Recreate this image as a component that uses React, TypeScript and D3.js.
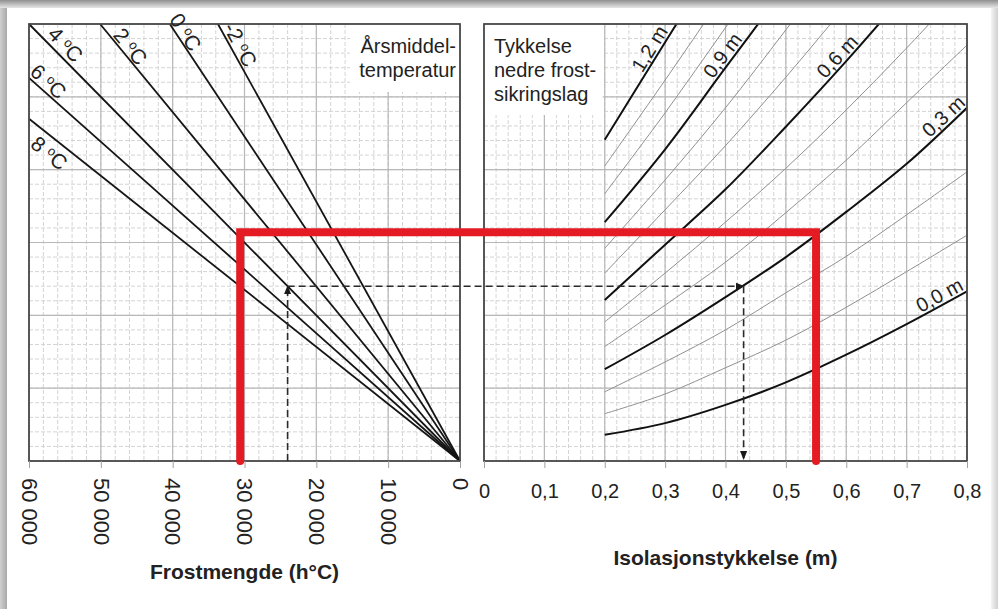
import React, { useEffect, useRef } from "react";
import * as d3 from "d3";

// ---- data ----

// left panel: annual mean temperature lines, each runs from the origin to where it leaves the frame
const tempLabels = ["-2", "0", "2", "4", "6", "8"];
const tempEndFrost = [33700, 40400, 50100, 60000, 60000, 60000];
const tempEndLevel = [6, 6, 6, 6, 5.26, 4.7];
// where the label sits along each line (frost amount) and on which side (+ above, - below)
const tempLabelFrost = [31750, 39200, 46860, 56070, 58250, 55940];
const tempLabelSide = [10, 9, 9.5, 12, 10.5, -14];

// right panel: thickness of lower frost protection layer (m)
const layerThickness = [0, 0.1, 0.2, 0.3, 0.4, 0.5, 0.6, 0.7, 0.8, 0.9, 1.0, 1.1, 1.2];
const isoSteps = [0.2, 0.3, 0.4, 0.5, 0.6, 0.7, 0.8];
// level of each curve at isoSteps (same vertical units as the left panel, 0..6)
const layerLevels = [
  [0.36, 0.52, 0.77, 1.08, 1.46, 1.88, 2.33],
  [0.65, 0.92, 1.28, 1.66, 2.11, 2.6, 3.1],
  [0.95, 1.36, 1.8, 2.31, 2.81, 3.38, 3.97],
  [1.26, 1.73, 2.25, 2.8, 3.42, 4.08, 4.85],
  [1.57, 2.14, 2.73, 3.41, 4.13, 4.92, 5.71],
  [1.91, 2.58, 3.28, 4.02, 4.82, 5.67, 6.56],
  [2.21, 2.97, 3.73, 4.59, 5.49, 6.44],
  [2.58, 3.45, 4.33, 5.27, 6.26],
  [2.92, 3.86, 4.85, 5.92, 7.02],
  [3.28, 4.28, 5.4, 6.51],
  [3.67, 4.78, 5.95, 7.13],
  [4.05, 5.23, 6.44],
  [4.41, 5.75, 7.08],
];
const curveLabels = ["0,0 m", "0,3 m", "0,6 m", "0,9 m", "1,2 m"];
const curveLabelLayer = [0, 0.3, 0.6, 0.9, 1.2];
const curveLabelIso = [0.762, 0.772, 0.597, 0.408, 0.288];

// axis ticks
const frostTicks = [60000, 50000, 40000, 30000, 20000, 10000, 0];
const isoTicks = [0, 0.1, 0.2, 0.3, 0.4, 0.5, 0.6, 0.7, 0.8];

// worked example (dashed) and highlighted case (red)
const exampleFrost = 24000;
const exampleLevel = 2.4;
const exampleIso = 0.43;
const redFrost = 30600;
const redLevel = 3.14;
const redIso = 0.55;

const FONT = "'Liberation Sans', Arial, sans-serif";

function draw(svg) {
  var top = 24, bottom = 461;
  var xL = d3.scaleLinear().domain([60000, 0]).range([29, 460]);
  var xR = d3.scaleLinear().domain([0, 0.8]).range([484, 967]);
  var y = d3.scaleLinear().domain([0, 6]).range([bottom, top]);

  var defs = svg.append("defs");
  var gTop = defs.append("linearGradient").attr("id", "shTop").attr("x1", 0).attr("y1", 0).attr("x2", 0).attr("y2", 1);
  gTop.append("stop").attr("offset", "0%").attr("stop-color", "#8f8f8f");
  gTop.append("stop").attr("offset", "100%").attr("stop-color", "#e6e6e6");
  var gLeft = defs.append("linearGradient").attr("id", "shLeft").attr("x1", 0).attr("y1", 0).attr("x2", 1).attr("y2", 0);
  gLeft.append("stop").attr("offset", "0%").attr("stop-color", "#d0d0d0");
  gLeft.append("stop").attr("offset", "100%").attr("stop-color", "#a9a9a9");
  var gRight = defs.append("linearGradient").attr("id", "shRight").attr("x1", 0).attr("y1", 0).attr("x2", 1).attr("y2", 0);
  gRight.append("stop").attr("offset", "0%").attr("stop-color", "#f4f4f4");
  gRight.append("stop").attr("offset", "100%").attr("stop-color", "#cfcfcf");

  defs.append("clipPath").attr("id", "clipR")
    .append("rect")
    .attr("x", xR(0)).attr("y", top)
    .attr("width", xR(0.8) - xR(0)).attr("height", bottom - top);

  defs.append("marker")
    .attr("id", "arrow")
    .attr("viewBox", "0 0 10 10")
    .attr("refX", 9).attr("refY", 5)
    .attr("markerWidth", 9).attr("markerHeight", 9)
    .attr("markerUnits", "userSpaceOnUse")
    .attr("orient", "auto")
    .append("path").attr("d", "M0,1 L10,5 L0,9 Z").attr("fill", "#1a1a1a");

  // page + drop shadow of the pasted picture
  svg.append("rect").attr("width", 998).attr("height", 609).attr("fill", "#fff");
  svg.append("rect").attr("x", 0).attr("y", 0).attr("width", 7).attr("height", 609).attr("fill", "url(#shLeft)");
  svg.append("rect").attr("x", 991).attr("y", 0).attr("width", 7).attr("height", 609).attr("fill", "url(#shRight)");
  svg.append("rect").attr("x", 0).attr("y", 0).attr("width", 998).attr("height", 8).attr("fill", "url(#shTop)");

  // grid for one panel
  function grid(x, minorStep, majorStep) {
    var g = svg.append("g");
    var d = x.domain();
    var lo = Math.min(d[0], d[1]), hi = Math.max(d[0], d[1]);
    var minorX = d3.range(lo, hi + minorStep / 2, minorStep);
    var majorX = d3.range(lo, hi + majorStep / 2, majorStep);
    var minorY = d3.range(0, 6.01, 0.2);
    var majorY = d3.range(0, 6.01, 1);
    var xa = Math.min(x.range()[0], x.range()[1]), xb = Math.max(x.range()[0], x.range()[1]);

    g.selectAll(".mvx").data(minorX).join("line")
      .attr("x1", (v) => x(v)).attr("x2", (v) => x(v))
      .attr("y1", top).attr("y2", bottom)
      .attr("stroke", "#d4d4d4").attr("stroke-width", 1).attr("stroke-dasharray", "4,2");
    g.selectAll(".mhy").data(minorY).join("line")
      .attr("x1", xa).attr("x2", xb)
      .attr("y1", (v) => y(v)).attr("y2", (v) => y(v))
      .attr("stroke", "#d4d4d4").attr("stroke-width", 1).attr("stroke-dasharray", "4,2");
    g.selectAll(".Mvx").data(majorX).join("line")
      .attr("x1", (v) => x(v)).attr("x2", (v) => x(v))
      .attr("y1", top).attr("y2", bottom)
      .attr("stroke", "#b8b8b8").attr("stroke-width", 1.2);
    g.selectAll(".Mhy").data(majorY).join("line")
      .attr("x1", xa).attr("x2", xb)
      .attr("y1", (v) => y(v)).attr("y2", (v) => y(v))
      .attr("stroke", "#b8b8b8").attr("stroke-width", 1.2);
  }
  grid(xL, 2000, 10000);
  grid(xR, 0.02, 0.1);

  // white boxes behind the panel captions
  svg.append("rect").attr("x", 350).attr("y", top).attr("width", xL(0) - 350).attr("height", 68).attr("fill", "#fff");
  svg.append("rect").attr("x", xR(0)).attr("y", top).attr("width", xR(0.2) - xR(0) - 2).attr("height", 91).attr("fill", "#fff");

  // left: temperature lines
  var line = d3.line().x((p) => xL(p[0])).y((p) => y(p[1]));
  svg.append("g").selectAll("path")
    .data(tempLabels.map((t, i) => [[0, 0], [tempEndFrost[i], tempEndLevel[i]]]))
    .join("path")
    .attr("d", line)
    .attr("fill", "none").attr("stroke", "#151515").attr("stroke-width", 1.8);

  // right: layer thickness curves
  var curve = d3.line()
    .x((v, i) => xR(isoSteps[i]))
    .y((v) => y(v))
    .curve(d3.curveCatmullRom.alpha(0.5));
  svg.append("g").attr("clip-path", "url(#clipR)").selectAll("path")
    .data(layerLevels)
    .join("path")
    .attr("d", (d) => curve(d))
    .attr("fill", "none")
    .attr("stroke", (d, i) => (i % 3 === 0 ? "#111" : "#909090"))
    .attr("stroke-width", (d, i) => (i % 3 === 0 ? 2 : 1));

  // panel frames
  [[xL, 60000, 0], [xR, 0, 0.8]].forEach(([x, a, b]) => {
    svg.append("rect")
      .attr("x", x(a)).attr("y", top)
      .attr("width", x(b) - x(a)).attr("height", bottom - top)
      .attr("fill", "none").attr("stroke", "#4a4a4a").attr("stroke-width", 1.8);
  });

  // axes
  var axL = d3.axisBottom(xL).tickValues(frostTicks).tickSize(7)
    .tickFormat((d) => (d === 0 ? "0" : d3.format(",")(d).replace(/,/g, " ")));
  var gL = svg.append("g").attr("transform", `translate(0,${bottom})`).call(axL);
  gL.select(".domain").remove();
  gL.selectAll(".tick line").attr("stroke", "#a0a0a0");
  gL.selectAll(".tick text")
    .attr("transform", "rotate(90)")
    .attr("x", 17).attr("y", 0).attr("dy", "0.35em")
    .attr("text-anchor", "start")
    .attr("font-size", 22).attr("font-family", FONT).attr("fill", "#222");

  var axR = d3.axisBottom(xR).tickValues(isoTicks).tickSize(7)
    .tickFormat((d) => (d === 0 ? "0" : d3.format(".1f")(d).replace(".", ",")));
  var gR = svg.append("g").attr("transform", `translate(0,${bottom})`).call(axR);
  gR.select(".domain").remove();
  gR.selectAll(".tick line").attr("stroke", "#a0a0a0");
  gR.selectAll(".tick text")
    .attr("y", 23)
    .attr("font-size", 20).attr("font-family", FONT).attr("fill", "#222");

  // axis titles
  svg.append("text")
    .attr("x", (xL(60000) + xL(0)) / 2).attr("y", 579)
    .attr("text-anchor", "middle").attr("font-family", FONT).attr("font-weight", "bold")
    .attr("font-size", 21).attr("fill", "#222")
    .text("Frostmengde (h°C)");
  svg.append("text")
    .attr("x", (xR(0) + xR(0.8)) / 2).attr("y", 565)
    .attr("text-anchor", "middle").attr("font-family", FONT).attr("font-weight", "bold")
    .attr("font-size", 21).attr("fill", "#222")
    .text("Isolasjonstykkelse (m)");

  // panel captions
  var capL = svg.append("text").attr("font-family", FONT).attr("font-size", 20).attr("fill", "#222").attr("text-anchor", "end");
  capL.append("tspan").attr("x", 456).attr("y", 53).text("Årsmiddel-");
  capL.append("tspan").attr("x", 456).attr("y", 77).text("temperatur");
  var capR = svg.append("text").attr("font-family", FONT).attr("font-size", 20).attr("fill", "#222");
  capR.append("tspan").attr("x", 494).attr("y", 53).text("Tykkelse");
  capR.append("tspan").attr("x", 494).attr("y", 77).text("nedre frost-");
  capR.append("tspan").attr("x", 494).attr("y", 101).text("sikringslag");

  // temperature labels, laid along their line ("4 ºC" with a raised small o)
  tempLabels.forEach((t, i) => {
    var x0 = xL(0), y0 = y(0), x1 = xL(tempEndFrost[i]), y1 = y(tempEndLevel[i]);
    var ang = Math.atan2(y0 - y1, x0 - x1);
    var px = xL(tempLabelFrost[i]);
    var py = y1 + ((px - x1) * (y0 - y1)) / (x0 - x1);
    var txt = svg.append("text")
      .attr("transform", `translate(${px},${py}) rotate(${(ang * 180) / Math.PI})`)
      .attr("y", -tempLabelSide[i]).attr("dy", "0.35em")
      .attr("text-anchor", "middle").attr("font-family", FONT).attr("font-size", 21).attr("fill", "#222");
    txt.append("tspan").text(t + " ");
    txt.append("tspan").attr("font-size", 13).attr("dy", "-0.45em").text("o");
    txt.append("tspan").attr("dy", "0.3em").text("C");
  });

  // thickness labels
  curveLabels.forEach((t, i) => {
    var k = layerThickness.indexOf(curveLabelLayer[i]);
    var lv = layerLevels[k];
    var iso = curveLabelIso[i];
    var j = Math.min(d3.bisectRight(isoSteps, iso) - 1, lv.length - 2);
    var ax = xR(isoSteps[j]), ay = y(lv[j]), bx = xR(isoSteps[j + 1]), by = y(lv[j + 1]);
    var px = xR(iso);
    var py = ay + ((px - ax) * (by - ay)) / (bx - ax);
    var ang = (Math.atan2(by - ay, bx - ax) * 180) / Math.PI;
    svg.append("text")
      .attr("transform", `translate(${px},${py}) rotate(${ang})`)
      .attr("y", -10).attr("dy", "0.35em")
      .attr("text-anchor", "middle").attr("font-family", FONT).attr("font-size", 20).attr("fill", "#222")
      .text(t);
  });

  // dashed worked example with arrows
  var segs = [
    [xL(exampleFrost), y(0), xL(exampleFrost), y(exampleLevel)],
    [xL(exampleFrost), y(exampleLevel), xR(exampleIso), y(exampleLevel)],
    [xR(exampleIso), y(exampleLevel), xR(exampleIso), y(0) - 2],
  ];
  svg.append("g").selectAll("line").data(segs).join("line")
    .attr("x1", (s) => s[0]).attr("y1", (s) => s[1])
    .attr("x2", (s) => s[2]).attr("y2", (s) => s[3])
    .attr("stroke", "#2a2a2a").attr("stroke-width", 1.6).attr("stroke-dasharray", "7,4")
    .attr("marker-end", "url(#arrow)");

  // red highlight
  var red = d3.path();
  red.moveTo(xL(redFrost), y(0));
  red.lineTo(xL(redFrost), y(redLevel));
  red.lineTo(xR(redIso), y(redLevel));
  red.lineTo(xR(redIso), y(0));
  svg.append("path")
    .attr("d", red.toString())
    .attr("fill", "none").attr("stroke", "#e41b23").attr("stroke-width", 8)
    .attr("stroke-linecap", "round").attr("stroke-linejoin", "miter");
}

export default function App() {
  const ref = useRef(null);
  useEffect(() => {
    const svg = d3.select(ref.current);
    svg.selectAll("*").remove();
    draw(svg);
  }, []);
  return (
    <svg
      ref={ref}
      width={998}
      height={609}
      style={{ position: "absolute", left: 0, top: 0, display: "block" }}
    />
  );
}
